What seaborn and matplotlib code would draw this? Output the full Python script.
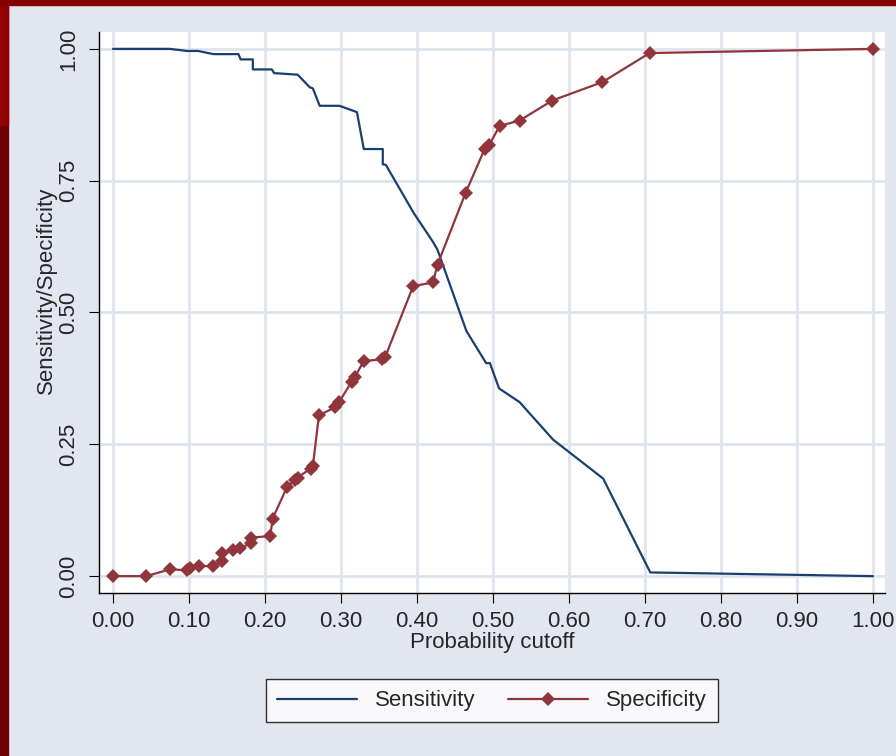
import pandas as pd
import matplotlib.pyplot as plt
import seaborn as sns
from matplotlib.patches import Rectangle
from matplotlib.lines import Line2D

# Values
sens_cutoff = [0, 0.075, 0.097, 0.112, 0.132, 0.165, 0.168, 0.184, 0.184, 0.209, 0.212,
               0.243, 0.259, 0.263, 0.272, 0.298, 0.321, 0.330, 0.355, 0.355, 0.359,
               0.396, 0.421, 0.427, 0.465, 0.491, 0.496, 0.508, 0.535, 0.579, 0.645,
               0.707, 1.0]
sensitivity = [1.0, 1.0, 0.996, 0.996, 0.990, 0.990, 0.980, 0.980, 0.961, 0.961, 0.954,
               0.951, 0.927, 0.925, 0.892, 0.892, 0.880, 0.810, 0.810, 0.781, 0.780,
               0.688, 0.634, 0.619, 0.465, 0.404, 0.404, 0.356, 0.330, 0.259, 0.185,
               0.007, 0.0]

spec_cutoff = [0, 0.044, 0.075, 0.098, 0.101, 0.113, 0.131, 0.144, 0.144, 0.158, 0.167,
               0.182, 0.182, 0.207, 0.210, 0.229, 0.239, 0.243, 0.260, 0.263, 0.271,
               0.292, 0.298, 0.314, 0.318, 0.330, 0.354, 0.358, 0.395, 0.421, 0.427,
               0.464, 0.489, 0.495, 0.509, 0.535, 0.578, 0.644, 0.706, 1.0]
specificity = [0, 0, 0.013, 0.011, 0.015, 0.019, 0.019, 0.028, 0.044, 0.049, 0.054,
               0.062, 0.073, 0.076, 0.109, 0.169, 0.182, 0.187, 0.204, 0.209, 0.305,
               0.320, 0.331, 0.369, 0.377, 0.408, 0.411, 0.415, 0.550, 0.557, 0.591,
               0.727, 0.810, 0.818, 0.854, 0.864, 0.902, 0.937, 0.992, 1.0]

x_ticks = [0.0, 0.1, 0.2, 0.3, 0.4, 0.5, 0.6, 0.7, 0.8, 0.9, 1.0]
y_ticks = [0.0, 0.25, 0.5, 0.75, 1.0]

navy = "#1A3F6F"
maroon = "#90353B"
bg = "#E2E6F0"
grid = "#DEE3EE"

sns.set_style("white")
plt.rcParams["font.family"] = ["Liberation Sans Narrow", "Liberation Sans", "DejaVu Sans"]

sens_df = pd.DataFrame({"cutoff": sens_cutoff, "value": sensitivity})
spec_df = pd.DataFrame({"cutoff": spec_cutoff, "value": specificity})

fig = plt.figure(figsize=(8.96, 7.56), dpi=100, facecolor=bg)
ax = fig.add_axes([0.1105, 0.2156, 0.8772, 0.7421])
ax.set_facecolor("white")

# frame strips of the slide
fig.patches.append(Rectangle((0, 0), 0.009, 1, transform=fig.transFigure,
                             color="#6E0000", zorder=0))
fig.patches.append(Rectangle((0, 0.835), 0.009, 0.165, transform=fig.transFigure,
                             color="#920000", zorder=0))
fig.patches.append(Rectangle((0, 0.993), 1, 0.007, transform=fig.transFigure,
                             color="#870000", zorder=0))

sns.lineplot(data=sens_df, x="cutoff", y="value", ax=ax, color=navy, lw=1.6,
             estimator=None, sort=False)
sns.lineplot(data=spec_df, x="cutoff", y="value", ax=ax, color=maroon, lw=1.6,
             marker="D", markersize=7.5, markeredgewidth=0, estimator=None, sort=False)

ax.set_xlim(-0.0184, 1.0158)
ax.set_ylim(-0.032, 1.032)
ax.set_xticks(x_ticks)
ax.set_xticklabels([f"{t:.2f}" for t in x_ticks])
ax.set_yticks(y_ticks)
ax.set_yticklabels([f"{t:.2f}" for t in y_ticks], rotation=90, va="center")
ax.grid(True, color=grid, lw=2)
ax.set_axisbelow(True)

for s in ["top", "right"]:
    ax.spines[s].set_visible(False)
for s in ["left", "bottom"]:
    ax.spines[s].set_color("black")
    ax.spines[s].set_linewidth(1.0)

ax.tick_params(axis="both", direction="out", length=7, width=0.8, color="black",
               labelsize=16, left=True, bottom=True)
ax.tick_params(axis="x", pad=6)
ax.tick_params(axis="y", pad=7)

ax.set_xlabel("Probability cutoff", fontsize=16, labelpad=0)
ax.set_ylabel("Sensitivity/Specificity", fontsize=16, labelpad=-2)
ax.yaxis.set_label_coords(-0.054, 0.54)

handles = [Line2D([], [], color=navy, lw=1.6),
           Line2D([], [], color=maroon, lw=1.6, marker="D", markersize=7.5,
                  markeredgewidth=0)]
leg = fig.legend(handles, ["Sensitivity", "Specificity"], loc="center",
                 bbox_to_anchor=(0.549, 0.073), ncol=2, fontsize=16,
                 frameon=True, fancybox=False, edgecolor="black",
                 handlelength=3.6, columnspacing=1.5, borderpad=0.5)
leg.get_frame().set_linewidth(1.0)

plt.savefig("out.png", dpi=100, facecolor=bg)
